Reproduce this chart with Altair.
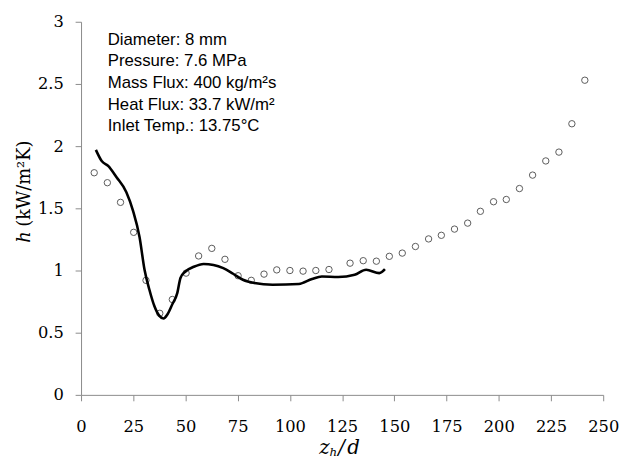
import altair as alt
import pandas as pd

# Experimental data (open circles)
exp_x = [6.3, 12.6, 18.9, 25.2, 31.1, 37.7, 43.7, 50.3, 56.3, 62.6, 68.9, 75.2, 81.5,
         87.6, 93.7, 100.0, 106.3, 112.4, 118.7, 128.8, 135.1, 141.4, 147.6, 153.8,
         160.1, 166.4, 172.5, 178.8, 185.1, 191.2, 197.5, 203.6, 209.9, 216.2, 222.5,
         228.8, 235.0, 241.2]
exp_h = [1.786, 1.706, 1.548, 1.307, 0.921, 0.656, 0.767, 0.979, 1.117, 1.178, 1.090,
         0.958, 0.921, 0.971, 1.005, 1.000, 0.995, 1.000, 1.008, 1.059, 1.079, 1.075,
         1.114, 1.140, 1.193, 1.254, 1.283, 1.333, 1.381, 1.476, 1.553, 1.571, 1.659,
         1.767, 1.881, 1.952, 2.180, 2.530]

# Predicted curve (solid line)
pred_x = [7.1, 9.9, 13.1, 17.0, 21.7, 24.9, 28.0, 30.4, 32.7, 35.1, 37.5, 39.5, 41.4,
          43.7, 46.1, 47.6, 50.0, 54.0, 58.7, 63.4, 68.1, 72.8, 77.5, 83.0, 91.7,
          104.3, 110.6, 115.3, 123.1, 131.0, 136.5, 142.8, 145.5]
pred_h = [1.97, 1.88, 1.84, 1.75, 1.63, 1.48, 1.27, 1.006, 0.847, 0.714, 0.635, 0.614,
          0.648, 0.728, 0.82, 0.94, 0.992, 1.03, 1.053, 1.045, 1.019, 0.974, 0.926,
          0.90, 0.886, 0.892, 0.932, 0.952, 0.948, 0.966, 1.006, 0.979, 1.011]

x_ticks = [0, 25, 50, 75, 100, 125, 150, 175, 200, 225, 250]
y_ticks = [0, 0.5, 1, 1.5, 2, 2.5, 3]

info_lines = ["Diameter: 8 mm", "Pressure: 7.6 MPa", "Mass Flux: 400 kg/m\u00b2s",
              "Heat Flux: 33.7 kW/m\u00b2", "Inlet Temp.: 13.75\u00b0C"]

SERIF = "DejaVu Serif"
SANS = "Liberation Sans"
GRAY = "#8a8a8a"

exp_df = pd.DataFrame({"x": exp_x, "h": exp_h})
pred_df = pd.DataFrame({"x": pred_x, "h": pred_h})

xscale = alt.Scale(domain=[0, 250], nice=False, zero=False)
yscale = alt.Scale(domain=[0, 3], nice=False)

common = dict(title=None, grid=False, tickSize=6, labelFlush=False,
              labelExpr="datum.value + ''", labelFont=SERIF, labelFontSize=16.5,
              labelColor="black", domainColor=GRAY, tickColor=GRAY,
              domainWidth=1, tickWidth=1)
xaxis = alt.Axis(values=x_ticks, labelPadding=18, **common)
yaxis = alt.Axis(values=y_ticks, labelPadding=12, **common)

points = alt.Chart(exp_df).mark_point(
    shape="circle", filled=False, size=42, stroke="#5a5a5a", strokeWidth=1, opacity=1
).encode(
    x=alt.X("x:Q", scale=xscale, axis=xaxis),
    y=alt.Y("h:Q", scale=yscale, axis=yaxis),
)

line = alt.Chart(pred_df).mark_line(
    color="black", strokeWidth=2.6, interpolate="monotone"
).encode(
    x=alt.X("x:Q", scale=xscale),
    y=alt.Y("h:Q", scale=yscale),
)

info = alt.Chart(pd.DataFrame({"t": [0]})).mark_text(
    align="left", baseline="alphabetic", font=SANS, fontSize=17, lineHeight=21.8,
    color="black"
).encode(x=alt.value(27), y=alt.value(23.5), text=alt.value(info_lines))


def label(txt, x, y, size, style="normal", angle=0, align="center"):
    return alt.Chart(pd.DataFrame({"t": [txt]})).mark_text(
        align=align, baseline="alphabetic", font=SERIF, fontSize=size,
        fontStyle=style, angle=angle, color="black"
    ).encode(x=alt.value(x), y=alt.value(y), text="t:N")


xt_z = label("z", 246.5, 438, 20, "italic")
xt_h = label("h", 255.5, 440, 12, "italic")
xt_s = label("/", 264, 438, 20, "italic")
xt_d = label("d", 276, 438, 20, "italic")

yt_h = label("h", -51.5, 218, 18, "italic", angle=270)
yt_u = label("(kW/m\u00b2K)", -51.5, 164, 18, "normal", angle=270)

chart = alt.layer(points, line, info, xt_z, xt_h, xt_s, xt_d, yt_h, yt_u).properties(
    width=529, height=378,
    autosize=alt.AutoSizeParams(type="none"),
    padding={"left": 74, "top": 11, "right": 16, "bottom": 61},
).configure_view(stroke=None)

chart.save("out.html", embed_options={"renderer": "svg", "actions": False})
